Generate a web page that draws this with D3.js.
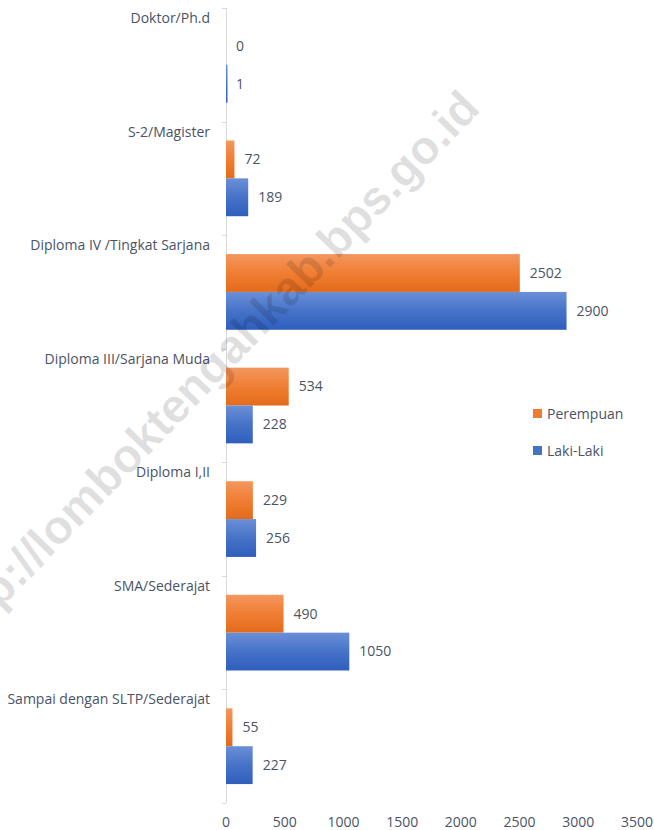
<!DOCTYPE html>
<html>
<head>
<meta charset="utf-8">
<script src="https://cdn.jsdelivr.net/npm/d3@7"></script>
<style>
  body { margin: 0; background: #fff; }
  text { font-family: "Open Sans", "Noto Sans", sans-serif; }
</style>
</head>
<body>
<div id="chart"></div>
<script>
// Education level categories, top to bottom
const categories = [
  "Doktor/Ph.d",
  "S-2/Magister",
  "Diploma IV /Tingkat Sarjana",
  "Diploma III/Sarjana Muda",
  "Diploma I,II",
  "SMA/Sederajat",
  "Sampai dengan SLTP/Sederajat"
];
const seriesNames = ["Perempuan", "Laki-Laki"];
const perempuan = [0, 72, 2502, 534, 229, 490, 55];
const lakiLaki = [1, 189, 2900, 228, 256, 1050, 227];
const xTicks = [0, 500, 1000, 1500, 2000, 2500, 3000, 3500];

const width = 654;
const height = 830;
const textColor = "#4a5366";
const fontSize = 14;

const svg = d3.select("#chart")
  .append("svg")
    .attr("width", width)
    .attr("height", height);

// gradients like the office bar fill
const defs = svg.append("defs");
const gradients = [
  { id: "grad-orange", stops: ["#f3975f", "#f07e33", "#e36b1b"] },
  { id: "grad-blue", stops: ["#6b8fd7", "#4673c8", "#2f5ebd"] }
];
gradients.forEach(g => {
  const lg = defs.append("linearGradient")
      .attr("id", g.id)
      .attr("x1", 0).attr("y1", 0)
      .attr("x2", 0).attr("y2", 1);
  g.stops.forEach((c, i) => {
    lg.append("stop")
      .attr("offset", (i * 50) + "%")
      .attr("stop-color", c);
  });
});

const x = d3.scaleLinear()
    .domain([0, 3500])
    .range([226, 637]);

const y = d3.scaleBand()
    .domain(categories)
    .range([8, 803])
    .padding(0);

const step = y.bandwidth();
const ySeries = d3.scaleBand()
    .domain(seriesNames)
    .range([step / 6, step * 5 / 6]);

const rows = categories.map((c, i) => ({
  category: c,
  values: [
    { series: "Perempuan", value: perempuan[i], fill: "url(#grad-orange)" },
    { series: "Laki-Laki", value: lakiLaki[i], fill: "url(#grad-blue)" }
  ]
}));

// axis line and category boundary ticks
svg.append("line")
    .attr("x1", x(0) + 0.5).attr("x2", x(0) + 0.5)
    .attr("y1", y.range()[0]).attr("y2", y.range()[1])
    .attr("stroke", "#d9d9d9")
    .attr("stroke-width", 1);

svg.selectAll(".cat-tick")
  .data(categories.concat(["end"]))
  .join("line")
    .attr("class", "cat-tick")
    .attr("x1", x(0) - 4).attr("x2", x(0))
    .attr("y1", (d, i) => Math.round(y.range()[0] + i * step) + 0.5)
    .attr("y2", (d, i) => Math.round(y.range()[0] + i * step) + 0.5)
    .attr("stroke", "#d9d9d9");

const groups = svg.selectAll(".cat-group")
  .data(rows)
  .join("g")
    .attr("class", "cat-group")
    .attr("transform", d => `translate(0,${y(d.category)})`);

// category labels above each group
groups.append("text")
    .attr("x", 210)
    .attr("y", 15)
    .attr("text-anchor", "end")
    .attr("fill", textColor)
    .attr("font-size", fontSize)
    .text(d => d.category);

// tiny values still show as a hairline, like the source
groups.selectAll("rect")
  .data(d => d.values)
  .join("rect")
    .attr("x", x(0))
    .attr("y", d => ySeries(d.series))
    .attr("width", d => d.value > 0 ? Math.max(1.5, x(d.value) - x(0)) : 0)
    .attr("height", ySeries.bandwidth())
    .attr("fill", d => d.fill);

groups.selectAll(".value-label")
  .data(d => d.values)
  .join("text")
    .attr("class", "value-label")
    .attr("x", d => x(d.value) + 10)
    .attr("y", d => ySeries(d.series) + ySeries.bandwidth() / 2)
    .attr("dy", "0.35em")
    .attr("fill", textColor)
    .attr("font-size", fontSize)
    .text(d => d.value);

// x axis labels
svg.selectAll(".x-label")
  .data(xTicks)
  .join("text")
    .attr("class", "x-label")
    .attr("x", d => x(d))
    .attr("y", 822)
    .attr("dy", "0.35em")
    .attr("text-anchor", "middle")
    .attr("fill", textColor)
    .attr("font-size", fontSize)
    .text(d => d);

// legend
const legend = svg.append("g")
    .attr("transform", "translate(533,409)");
const legendItems = legend.selectAll("g")
  .data([
    { name: "Perempuan", fill: "#ee7d31" },
    { name: "Laki-Laki", fill: "#4472c4" }
  ])
  .join("g")
    .attr("transform", (d, i) => `translate(0,${i * 37})`);
legendItems.append("rect")
    .attr("width", 9)
    .attr("height", 9)
    .attr("fill", d => d.fill);
legendItems.append("text")
    .attr("x", 14)
    .attr("y", 5)
    .attr("dy", "0.35em")
    .attr("fill", textColor)
    .attr("font-size", fontSize)
    .text(d => d.name);

// watermark
svg.append("text")
    .attr("transform", "translate(482,110) rotate(-46)")
    .attr("text-anchor", "end")
    .attr("font-weight", "bold")
    .attr("font-size", 47)
    .attr("fill", "#000")
    .attr("fill-opacity", 0.12)
    .style("font-family", "'Liberation Sans', Arial, sans-serif")
    .text("http://lomboktengahkab.bps.go.id");
</script>
</body>
</html>
